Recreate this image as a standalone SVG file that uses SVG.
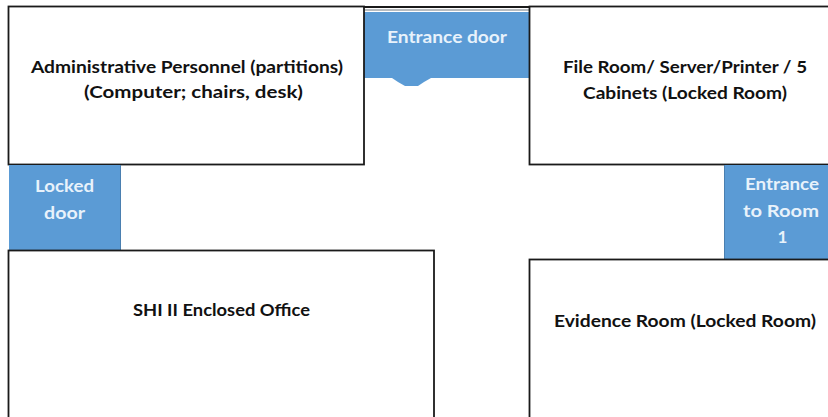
<svg xmlns="http://www.w3.org/2000/svg" width="828" height="417" viewBox="0 0 828 417">
<style>
.room{fill:#fff;stroke:#1a1a1a;stroke-width:1.8}
.door{fill:#5b9bd5}
.t{font-family:Lato,"Liberation Sans",sans-serif;font-size:17px;font-weight:700;text-anchor:middle;fill:#111}
.w{font-family:Lato,"Liberation Sans",sans-serif;font-size:17px;font-weight:700;text-anchor:middle;fill:#e8f2fb}
</style>
<rect width="828" height="417" fill="#fff"/>
<g id="entrance-door"><path d="M364 7H530" fill="none" stroke="#1a1a1a" stroke-width="1.800"/><path d="M364 10H530" fill="none" stroke="#b8bcc0" stroke-width="2"/><path class="door" d="M364 12H530V78H431L424 82L418 86H405L398 82L392 78H364Z"/><text class="w" x="447" y="43" textLength="120" lengthAdjust="spacingAndGlyphs">Entrance door</text></g>
<g id="admin"><rect class="room" x="8.500" y="6.500" width="355.500" height="158"/><text class="t" x="187" y="73" textLength="312" lengthAdjust="spacingAndGlyphs">Administrative Personnel (partitions)</text><text class="t" x="193.500" y="98" textLength="219" lengthAdjust="spacingAndGlyphs">(Computer; chairs, desk)</text></g>
<g id="file-room"><rect class="room" x="529.500" y="6.500" width="310" height="158"/><text class="t" x="685" y="73" textLength="244" lengthAdjust="spacingAndGlyphs">File Room/ Server/Printer / 5</text><text class="t" x="685" y="99" textLength="204" lengthAdjust="spacingAndGlyphs">Cabinets (Locked Room)</text></g>
<g id="locked-door"><rect class="door" x="9" y="165" width="112" height="85"/><path d="M120.500 165V250" stroke="#4a7fb0" stroke-width="1" fill="none"/><text class="w" x="64.500" y="192" textLength="59" lengthAdjust="spacingAndGlyphs">Locked</text><text class="w" x="64.500" y="219" textLength="41" lengthAdjust="spacingAndGlyphs">door</text></g>
<g id="entrance-room"><rect class="door" x="724" y="165" width="104" height="94"/><path d="M724.500 165V259" stroke="#4a7fb0" stroke-width="1" fill="none"/><text class="w" x="782" y="190" textLength="74" lengthAdjust="spacingAndGlyphs">Entrance</text><text class="w" x="781" y="217" textLength="76" lengthAdjust="spacingAndGlyphs">to Room</text><text class="w" x="782.500" y="243">1</text></g>
<g id="shi"><rect class="room" x="8.500" y="250.500" width="425.500" height="180"/><text class="t" x="221.500" y="316" textLength="177" lengthAdjust="spacingAndGlyphs">SHI II Enclosed Office</text></g>
<g id="evidence"><rect class="room" x="529.500" y="259.500" width="310" height="170"/><text class="t" x="685" y="327" textLength="262" lengthAdjust="spacingAndGlyphs">Evidence Room (Locked Room)</text></g>
<g id="connectors"/>
</svg>
